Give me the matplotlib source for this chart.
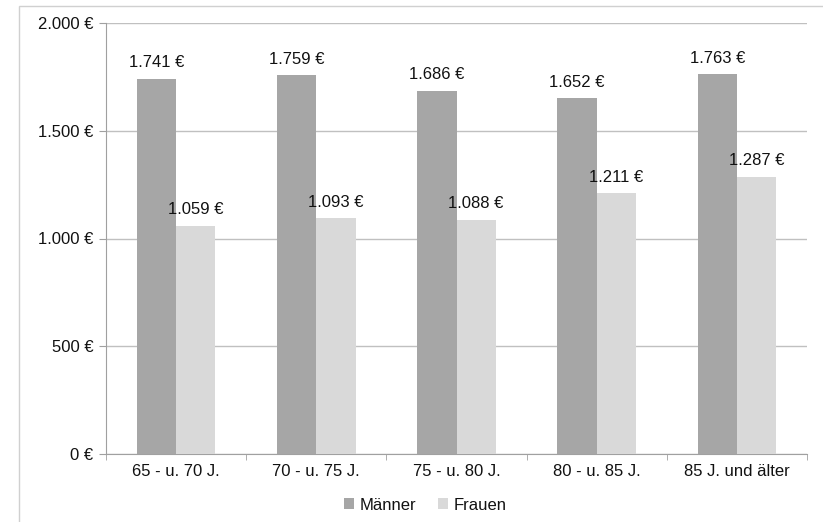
import matplotlib
matplotlib.use("Agg")
import matplotlib.pyplot as plt
import numpy as np
from matplotlib.patches import Rectangle

categories = ["65 - u. 70 J.", "70 - u. 75 J.", "75 - u. 80 J.", "80 - u. 85 J.", "85 J. und älter"]
maenner = [1741, 1759, 1686, 1652, 1763]
frauen = [1059, 1093, 1088, 1211, 1287]
y_ticks = [0, 500, 1000, 1500, 2000]
y_tick_labels = ["0 €", "500 €", "1.000 €", "1.500 €", "2.000 €"]
series_names = ["Männer", "Frauen"]

def fmt(v):
    return f"{v:,}".replace(",", ".") + " €"

plt.rcParams['font.family'] = ['Liberation Sans', 'DejaVu Sans']

W, H = 823, 522
fig = plt.figure(figsize=(W / 100, H / 100), dpi=100)
ax = fig.add_axes([106 / W, 1 - 454 / H, (807 - 106) / W, (454 - 23) / H])

# outer chart border
fig.patches.append(Rectangle((19 / W, -0.1), 1.2, 1 - 6 / H + 0.1, transform=fig.transFigure,
                             fill=False, edgecolor="#d0d0d0", linewidth=1.0))

x = np.arange(len(categories))
bw = 0.28
c_m = "#a6a6a6"
c_f = "#d9d9d9"
b1 = ax.bar(x - bw / 2, maenner, bw, color=c_m, label=series_names[0], zorder=3)
b2 = ax.bar(x + bw / 2, frauen, bw, color=c_f, label=series_names[1], zorder=3)

fs = 12
tc = "#111111"
for rect, v in zip(b1, maenner):
    ax.annotate(fmt(v), (rect.get_x() + rect.get_width() / 2, v), xytext=(0, 6),
                textcoords="offset points", ha="center", va="bottom", fontsize=fs, color=tc)
for rect, v in zip(b2, frauen):
    ax.annotate(fmt(v), (rect.get_x() + rect.get_width() / 2, v), xytext=(0, 6),
                textcoords="offset points", ha="center", va="bottom", fontsize=fs, color=tc)

ax.set_xlim(-0.5, len(categories) - 0.5)
ax.set_ylim(0, 2000)
ax.set_yticks(y_ticks)
ax.set_yticklabels(y_tick_labels, fontsize=fs, color=tc)
ax.yaxis.grid(True, color="#c0c0c0", linewidth=1.0, zorder=0)
ax.set_axisbelow(True)

ax.set_xticks(x)
ax.set_xticklabels(categories, fontsize=fs, color=tc)
ax.tick_params(axis="x", length=0, pad=7)
ax.set_xticks(np.arange(len(categories) + 1) - 0.5, minor=True)
ax.tick_params(axis="x", which="minor", length=4, color="#a0a0a0", direction="out")
ax.tick_params(axis="y", length=5, color="#a0a0a0", pad=4)

for s in ["top", "right"]:
    ax.spines[s].set_visible(False)
ax.spines["left"].set_color("#a0a0a0")
ax.spines["bottom"].set_color("#a0a0a0")

leg = fig.legend(handles=[b1, b2], labels=series_names, loc="center",
                 bbox_to_anchor=(425 / W, 1 - 505 / H), ncol=2, frameon=False,
                 fontsize=fs, handlelength=0.65, handleheight=0.65, handletextpad=0.3,
                 columnspacing=1.3)
for t in leg.get_texts():
    t.set_color(tc)

fig.savefig("out.png", dpi=100)
